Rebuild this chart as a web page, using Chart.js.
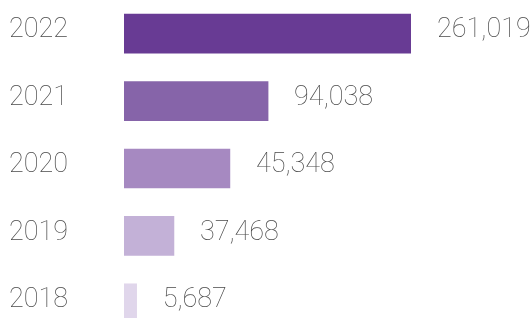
<!DOCTYPE html>
<html>
<head>
<meta charset="utf-8">
<script src="https://cdn.jsdelivr.net/npm/chart.js@4/dist/chart.umd.min.js"></script>
<style>
html,body{margin:0;padding:0;background:#fff;overflow:hidden;}
#wrap{position:relative;width:532px;height:337px;}
</style>
</head>
<body>
<div id="wrap"><canvas id="c"></canvas></div>
<script>
// Categories (years) top to bottom
const years = ["2022", "2021", "2020", "2019", "2018"];
// Values shown as labels
const values = [261019, 94038, 45348, 37468, 5687];
// Bar lengths as drawn in the graphic (percent of the longest bar)
const barLengths = [100, 50.2, 36.9, 17.4, 4.4];
const barColors = ["#683b94", "#8664a9", "#a689c1", "#c3b1d7", "#e0d6eb"];

const fmt = v => v.toLocaleString("en-US");
const FONT = "100 27px Roboto";
const TEXT = "#4a4a4a";

const labelPlugin = {
  id: "labels",
  afterDatasetsDraw(chart) {
    const ctx = chart.ctx;
    const meta = chart.getDatasetMeta(0);
    ctx.save();
    ctx.font = FONT;
    ctx.fillStyle = TEXT;
    ctx.textBaseline = "alphabetic";
    ctx.textAlign = "left";
    meta.data.forEach((bar, i) => {
      const y = bar.y + 3.7;
      ctx.fillText(years[i], 9, y);
      ctx.fillText(fmt(values[i]), bar.x + 26, y);
    });
    ctx.restore();
  }
};

new Chart(document.getElementById("c"), {
  type: "bar",
  data: {
    labels: years,
    datasets: [{
      data: barLengths,
      backgroundColor: barColors,
      borderWidth: 0,
      barThickness: 39
    }]
  },
  options: {
    indexAxis: "y",
    responsive: true,
    maintainAspectRatio: false,
    animation: false,
    layout: { padding: { left: 124, right: 121, top: 0, bottom: 0 } },
    plugins: { legend: { display: false }, tooltip: { enabled: false } },
    scales: {
      x: { display: false, min: 0, max: 100 },
      y: { display: false }
    }
  },
  plugins: [labelPlugin]
});
</script>
</body>
</html>
